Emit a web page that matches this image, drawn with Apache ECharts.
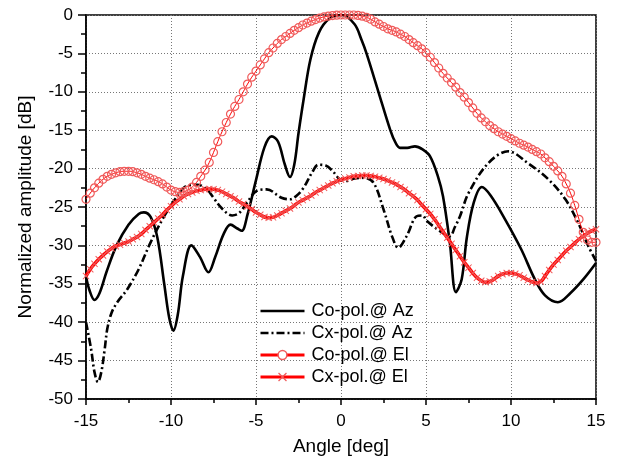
<!DOCTYPE html>
<html>
<head>
<meta charset="utf-8">
<script src="https://cdn.jsdelivr.net/npm/echarts@6/dist/echarts.min.js"></script>
<style>
  html, body { margin: 0; padding: 0; background: #fff; }
  #chart { width: 618px; height: 461px; }
</style>
</head>
<body>
<div id="chart"></div>
<script>
// Co-polar azimuth cut: [angle deg, dB]
const coPolAz = [
  [-15, -34.0], [-14.8, -35.8], [-14.5, -37.1], [-14.2, -36.2], [-13.8, -33.5],
  [-13.2, -30.0], [-12.5, -27.3], [-11.9, -25.9], [-11.6, -25.7], [-11.2, -26.3],
  [-10.8, -29.0], [-10.4, -35.0], [-10.1, -39.5], [-9.86, -41.1], [-9.6, -39.0],
  [-9.3, -34.0], [-8.8, -30.0], [-8.3, -31.5], [-7.8, -33.5], [-7.4, -31.5],
  [-6.9, -28.5], [-6.5, -27.3], [-6.1, -27.8], [-5.84, -28.1], [-5.5, -26.0],
  [-5.0, -21.5], [-4.5, -17.2], [-4.08, -15.8], [-3.7, -16.5], [-3.3, -19.5],
  [-3.0, -21.1], [-2.75, -19.5], [-2.5, -15.4], [-2.2, -11.0], [-1.8, -5.8],
  [-1.3, -2.3], [-0.7, -0.5], [0.05, 0], [0.8, -1.2],
  [1.2, -3.2], [1.5, -5.0], [2.2, -10.0], [2.9, -15.0], [3.2, -16.6],
  [3.47, -17.3], [3.9, -17.3], [4.35, -17.1], [4.8, -17.5], [5.24, -18.4],
  [5.7, -21.0], [6.0, -23.6], [6.4, -29.6], [6.76, -36.1], [7.1, -34.4],
  [7.4, -29.0], [7.8, -24.5], [8.28, -22.4], [8.8, -23.5], [9.65, -26.6],
  [10.6, -30.5], [11.4, -34.4], [12.0, -36.5], [12.76, -37.4], [13.5, -36.2],
  [14.3, -34.3], [15, -32.3]
];

// Cross-polar azimuth cut: [angle deg, dB]
const cxPolAz = [
  [-15, -40.0], [-14.7, -43.5], [-14.5, -46.5], [-14.3, -47.8], [-14.1, -46.5],
  [-13.9, -43.5], [-13.75, -40.9], [-13.5, -38.8], [-13.16, -37.4], [-12.57, -35.7],
  [-11.9, -33.1], [-11.2, -29.6], [-10.4, -26.2], [-9.7, -23.8], [-9.2, -22.4],
  [-8.45, -22.1], [-7.9, -22.7], [-7.5, -23.8], [-7.0, -25.2], [-6.4, -26.1],
  [-6.0, -25.8], [-5.55, -24.5], [-4.96, -22.9], [-4.37, -22.7], [-3.5, -23.8],
  [-3.0, -24.0], [-2.6, -23.5], [-2.2, -22.5], [-1.7, -20.5], [-1.33, -19.5],
  [-0.9, -19.6], [-0.5, -20.3], [-0.06, -21.4], [0.33, -21.6], [0.8, -21.3],
  [1.3, -21.2], [1.9, -21.8], [2.5, -25.3], [3.0, -28.8], [3.37, -30.3],
  [3.86, -28.8], [4.45, -26.2], [4.8, -26.1], [5.04, -26.8], [5.8, -28.1],
  [6.4, -28.8], [6.7, -27.6], [7.0, -26.2], [7.5, -23.2], [8.66, -19.3],
  [9.84, -17.75], [11.0, -19.3], [12.2, -21.4], [13.2, -24.0], [13.96, -27.1],
  [14.55, -30.1], [15, -32.0]
];

// Elevation cuts are sampled every 0.25 deg from -15 to 15
const elStart = -15;
const elStep = 0.25;

const coPolEl = [
  -24.0, -23.2, -22.5, -21.9, -21.4, -21.0, -20.75, -20.55, -20.4, -20.35,
  -20.35, -20.4, -20.55, -20.75, -21.0, -21.25, -21.45, -21.7, -22.0, -22.4,
  -22.8, -23.0, -23.1, -23.0, -22.8, -22.4, -21.8, -21.0, -20.2, -19.2,
  -17.9, -16.5, -15.2, -14.0, -12.9, -11.9, -11.0, -10.0, -9.0, -8.1,
  -7.3, -6.5, -5.7, -4.9, -4.3, -3.7, -3.2, -2.8, -2.4, -2.0,
  -1.65, -1.3, -1.05, -0.8, -0.6, -0.4, -0.25, -0.15, -0.07, -0.02,
  0, 0, 0, 0, -0.05, -0.15, -0.3, -0.55, -0.9, -1.2,
  -1.5, -1.8, -2.0, -2.2, -2.5, -2.8, -3.2, -3.6, -4.0, -4.4,
  -4.9, -5.5, -6.2, -6.9, -7.6, -8.2, -8.8, -9.4, -10.1, -10.7,
  -11.4, -12.1, -12.8, -13.4, -13.9, -14.4, -14.8, -15.2, -15.5, -15.8,
  -16.1, -16.4, -16.7, -16.95, -17.2, -17.5, -17.8, -18.1, -18.6, -19.1,
  -19.7, -20.3, -21.0, -22.0, -23.2, -24.8, -26.6, -28.3, -29.3, -29.6,
  -29.6
];

const cxPolEl = [
  -34.0, -33.1, -32.4, -31.8, -31.3, -30.8, -30.4, -30.1, -29.9, -29.7,
  -29.5, -29.2, -28.9, -28.5, -28.0, -27.5, -27.0, -26.5, -26.0, -25.4,
  -24.9, -24.4, -24.0, -23.6, -23.3, -23.1, -22.9, -22.8, -22.7, -22.65,
  -22.7, -22.8, -23.0, -23.3, -23.6, -23.9, -24.3, -24.6, -24.95, -25.3,
  -25.7, -26.0, -26.3, -26.4, -26.35, -26.1, -25.8, -25.5, -25.2, -24.8,
  -24.4, -24.1, -23.8, -23.5, -23.1, -22.8, -22.5, -22.2, -21.9, -21.65,
  -21.45, -21.3, -21.15, -21.0, -20.95, -20.9, -20.9, -20.95, -21.05, -21.2,
  -21.35, -21.55, -21.8, -22.05, -22.4, -22.75, -23.2, -23.6, -24.1, -24.7,
  -25.3, -25.9, -26.6, -27.4, -28.2, -29.0, -29.8, -30.6, -31.4, -32.2,
  -32.9, -33.6, -34.2, -34.6, -34.8, -34.7, -34.4, -34.0, -33.75, -33.6,
  -33.6, -33.7, -33.9, -34.2, -34.5, -34.75, -34.9, -34.7, -34.0, -33.2,
  -32.5, -31.9, -31.3, -30.7, -30.2, -29.7, -29.2, -28.8, -28.4, -28.1,
  -27.9
];

const seriesNames = ['Co-pol.@ Az', 'Cx-pol.@ Az', 'Co-pol.@ El', 'Cx-pol.@ El'];
const xTicks = [-15, 15, 5];
const yTicks = [-50, 0, 5];

const withAngles = vals => vals.map((v, i) => [elStart + i * elStep, v]);

const FONT = 'Liberation Sans, Arial, Helvetica, sans-serif';
const RED = '#ff0000';
const PINK = '#f05a5a';
const CROSS = 'path://M1,0L5,4L9,0L10,1L6,5L10,9L9,10L5,6L1,10L0,9L4,5L0,1Z';

const chart = echarts.init(document.getElementById('chart'), null, { renderer: 'canvas' });

const gridLine = { show: true, lineStyle: { color: '#777', width: 1, type: [1, 2] } };
const tickStyle = { color: '#000', width: 1.5 };
const noMarker = { opacity: 0, borderWidth: 0 };

chart.setOption({
  animation: false,
  backgroundColor: '#fff',
  textStyle: { fontFamily: FONT },
  grid: {
    left: 86, right: 22, top: 15, bottom: 61,
    show: true, borderColor: '#000', borderWidth: 1.5, backgroundColor: 'transparent'
  },
  legend: {
    orient: 'vertical',
    left: 259, top: 302, padding: 0,
    itemWidth: 44, itemHeight: 11, itemGap: 4,
    textStyle: { fontSize: 18, color: '#000', fontFamily: FONT, padding: [0, 0, 0, 2] },
    data: [
      { name: seriesNames[0], itemStyle: noMarker, lineStyle: { width: 2.6, color: '#000' } },
      { name: seriesNames[1], itemStyle: noMarker, lineStyle: { width: 2.6, color: '#000', type: [8, 3, 2, 3] } },
      { name: seriesNames[2], lineStyle: { width: 3, color: RED },
        itemStyle: { color: '#fff', borderColor: PINK, borderWidth: 1.5 } },
      { name: seriesNames[3], lineStyle: { width: 3, color: RED } }
    ]
  },
  xAxis: {
    type: 'value',
    min: xTicks[0], max: xTicks[1], interval: xTicks[2],
    name: 'Angle [deg]', nameLocation: 'middle', nameGap: 38,
    nameTextStyle: { fontSize: 19, color: '#000', fontFamily: FONT },
    axisLine: { show: true, onZero: false, lineStyle: tickStyle },
    axisTick: { show: true, inside: false, length: 6, lineStyle: tickStyle },
    minorTick: { show: true, splitNumber: 2, length: 4, lineStyle: tickStyle },
    axisLabel: { fontSize: 17, color: '#000', margin: 14, fontFamily: FONT },
    splitLine: gridLine
  },
  yAxis: {
    type: 'value',
    min: yTicks[0], max: yTicks[1], interval: yTicks[2],
    name: 'Normalized amplitude [dB]', nameLocation: 'middle', nameGap: 51, nameRotate: 90,
    nameTextStyle: { fontSize: 19, color: '#000', fontFamily: FONT },
    axisLine: { show: true, onZero: false, lineStyle: tickStyle },
    axisTick: { show: true, inside: false, length: 8, lineStyle: tickStyle },
    minorTick: { show: true, splitNumber: 2, length: 5, lineStyle: tickStyle },
    axisLabel: { fontSize: 17, color: '#000', margin: 13, fontFamily: FONT },
    splitLine: gridLine
  },
  series: [
    {
      name: seriesNames[0], type: 'line', data: coPolAz,
      smooth: 0.35, showSymbol: false, symbol: 'none',
      lineStyle: { color: '#000', width: 2.6 }, itemStyle: { color: '#000' }, z: 3
    },
    {
      name: seriesNames[1], type: 'line', data: cxPolAz,
      smooth: 0.35, showSymbol: false, symbol: 'none',
      lineStyle: { color: '#000', width: 2.6, type: [8, 3, 2, 3] }, itemStyle: { color: '#000' }, z: 3
    },
    {
      name: seriesNames[2], type: 'line', data: withAngles(coPolEl),
      smooth: true, symbol: 'circle', symbolSize: 8, showAllSymbol: true,
      lineStyle: { color: RED, width: 1 },
      itemStyle: { color: 'rgba(255,255,255,0)', borderColor: PINK, borderWidth: 1.2 }, z: 4
    },
    {
      name: seriesNames[3], type: 'line', data: withAngles(cxPolEl),
      smooth: true, symbol: CROSS, symbolSize: 7, showAllSymbol: true,
      lineStyle: { color: RED, width: 3.5 },
      itemStyle: { color: PINK }, z: 4
    }
  ]
});
</script>
</body>
</html>
